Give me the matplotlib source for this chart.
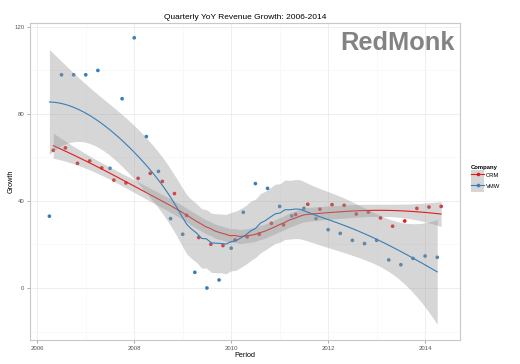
import numpy as np
import matplotlib
matplotlib.use("Agg")
import matplotlib.pyplot as plt
from matplotlib.lines import Line2D
from matplotlib.patches import Patch
from matplotlib.ticker import FixedLocator

plt.rcParams['font.family'] = ['Liberation Sans', 'DejaVu Sans']

# ---- data ----
companies = ["CRM", "VMW"]
crm_period = [2006.33 + 0.25 * i for i in range(33)]
crm_growth = [63.3, 64.4, 57.3, 58.4, 55.2, 49.6, 48.3, 50.4, 52.7, 49.0,
              43.4, 33.4, 23.2, 20.1, 19.5, 22.1, 23.5, 24.7, 29.7, 29.0,
              33.8, 38.5, 36.2, 38.3, 38.0, 34.0, 34.9, 32.2, 28.4, 30.8,
              36.6, 37.2, 37.5]
vmw_period = [2006.25 + 0.25 * i for i in range(33)]
vmw_growth = [33.0, 98.0, 98.0, 98.0, 100.0, 55.0, 87.0, 115.0, 69.6, 53.6,
              31.9, 24.7, 7.2, 0.0, 3.7, 18.3, 34.8, 48.0, 45.8, 37.5,
              33.1, 36.6, 31.9, 26.8, 25.1, 21.9, 20.4, 21.9, 12.9, 10.7,
              13.6, 14.7, 14.1]
x_ticks = [2006, 2008, 2010, 2012, 2014]
y_ticks = [0, 40, 80, 120]
colors = {"CRM": "#E41A1C", "VMW": "#377EB8"}


def loess_operator(x, xs, span=0.75):
    x = np.asarray(x, float)
    n = len(x)
    q = int(np.floor(n * span))
    L = np.zeros((len(xs), n))
    for i, x0 in enumerate(xs):
        d = np.abs(x - x0)
        h = np.sort(d)[q - 1]
        w = np.clip(1 - (d / h) ** 3, 0, None) ** 3
        X = np.vstack([np.ones(n), x - x0, (x - x0) ** 2]).T
        A = X.T @ (X * w[:, None])
        B = (X * w[:, None]).T
        L[i] = np.linalg.solve(A, B)[0]
    return L


def t975(df):
    z = 1.959964
    return (z + (z ** 3 + z) / (4 * df)
            + (5 * z ** 5 + 16 * z ** 3 + 3 * z) / (96 * df ** 2)
            + (3 * z ** 7 + 19 * z ** 5 + 17 * z ** 3 - 15 * z) / (384 * df ** 3))


def smooth(x, y):
    x = np.asarray(x, float)
    y = np.asarray(y, float)
    xs = np.linspace(x.min(), x.max(), 80)
    Ld = loess_operator(x, x)
    M = np.eye(len(x)) - Ld
    MM = M.T @ M
    d1 = np.trace(MM)
    d2 = np.trace(MM @ MM)
    res = y - Ld @ y
    sigma = np.sqrt(np.sum(res ** 2) / d1)
    L = loess_operator(x, xs)
    fit = L @ y
    se = sigma * np.sqrt(np.sum(L ** 2, axis=1))
    t = t975(d1 ** 2 / d2)
    return xs, fit, fit - t * se, fit + t * se


W, H = 520, 364
fig = plt.figure(figsize=(W / 100, H / 100), dpi=100)
ax = fig.add_axes([30 / W, 1 - 340 / H, 430 / W, 317 / H])
ax.set_xlim(2005.85, 2014.72)
ax.set_ylim(-23.9, 121.8)

ax.xaxis.set_major_locator(FixedLocator(x_ticks))
ax.yaxis.set_major_locator(FixedLocator(y_ticks))
ax.xaxis.set_minor_locator(FixedLocator([2007, 2009, 2011, 2013]))
ax.yaxis.set_minor_locator(FixedLocator([-20, 20, 60, 100]))
ax.grid(which='major', color='#EBEBEB', lw=0.6, zorder=0)
ax.grid(which='minor', color='#F7F7F7', lw=0.5, zorder=0)
ax.set_axisbelow(True)
ax.tick_params(which='minor', length=0)
ax.tick_params(which='major', length=2.5, width=0.5, color='#8C8C8C',
               labelsize=4.3, labelcolor='#555555', pad=1.5)
for s in ax.spines.values():
    s.set_color('#C8C8C8')
    s.set_linewidth(0.8)

series = {"CRM": (crm_period, crm_growth), "VMW": (vmw_period, vmw_growth)}
for c in companies:
    px, py = series[c]
    ax.scatter(px, py, s=7, color=colors[c], edgecolors='none', zorder=2)
for c in companies:
    px, py = series[c]
    xs, fit, lo, hi = smooth(px, py)
    ax.fill_between(xs, lo, hi, color='#999999', alpha=0.4, lw=0, zorder=3)
    ax.plot(xs, fit, color=colors[c], lw=0.8, zorder=3)

ax.set_xlabel("Period", fontsize=5.2)
ax.set_ylabel("Growth", fontsize=5.2)
ax.xaxis.set_label_coords(0.5, -0.037)
ax.yaxis.set_label_coords(-0.035, 0.5)
ax.set_title("Quarterly YoY Revenue Growth: 2006-2014", fontsize=6, pad=3)

ax.text(0.988, 0.915, "RedMonk", transform=ax.transAxes, ha='right', va='baseline',
        fontsize=18.3, fontweight='bold', color='#838383', zorder=1)

handles = []
for c in companies:
    handles.append((Patch(facecolor='#D6D6D6', edgecolor='none'),
                    Line2D([], [], color=colors[c], lw=0.8, marker='o', markersize=2.6,
                           markeredgewidth=0)))
leg = fig.legend(handles, companies, loc='upper left', bbox_to_anchor=(467 / W, 1 - 161 / H),
                 frameon=False, fontsize=4.2, title="Company", handlelength=2.2,
                 handleheight=2.4, handletextpad=0.35, labelspacing=0.05, borderpad=0.2)
leg.get_title().set_fontsize(4.2)
leg.get_title().set_fontweight('bold')
leg._legend_box.align = "left"

fig.savefig("out.png", dpi=100)
